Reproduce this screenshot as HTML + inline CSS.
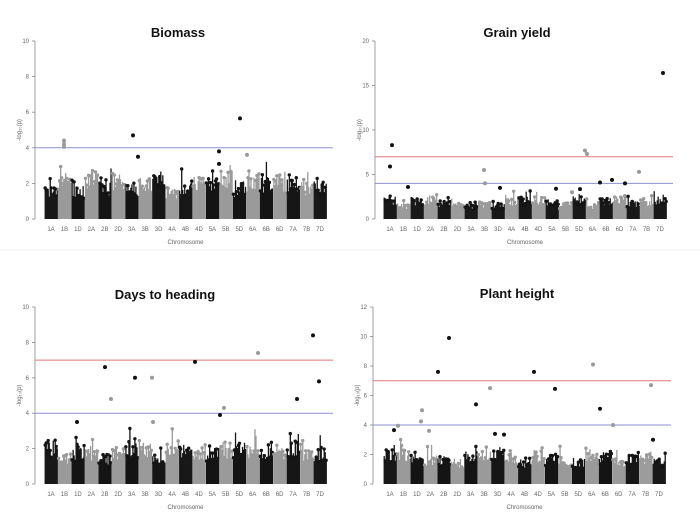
<!DOCTYPE html>
<html><head><meta charset="utf-8"><style>
body{margin:0;background:#fff;width:700px;height:527px;overflow:hidden}
svg{display:block}
text{font-family:"Liberation Sans",sans-serif}
</style></head><body>
<svg id="s" width="700" height="527" xmlns="http://www.w3.org/2000/svg">
<line x1="0" y1="250" x2="700" y2="250" stroke="#f0f0f0"/>
</svg>
<script>
var s=document.getElementById('s'),NS='http://www.w3.org/2000/svg',seed=7;
function R(){seed=(seed*16807)%2147483647;return seed/2147483647;}
function el(t,a,txt){var e=document.createElementNS(NS,t);for(var k in a)e.setAttribute(k,a[k]);if(txt!=null)e.textContent=txt;s.appendChild(e);return e;}
var labs=['1A','1B','1D','2A','2B','2D','3A','3B','3D','4A','4B','4D','5A','5B','5D','6A','6B','6D','7A','7B','7D'];
function panel(p){
 var u=(p.y0-p.yt)/p.max;
 function Y(v){return p.y0-v*u;}
 el('text',{x:p.tx,y:p.ty,'font-size':13,'font-weight':'bold','text-anchor':'middle',fill:'#111'},p.title);
 el('line',{x1:p.ax,y1:p.yt,x2:p.ax,y2:p.y0,stroke:'#888','stroke-width':0.8});
 for(var v=0;v<=p.max;v+=p.step){el('line',{x1:p.ax-3,y1:Y(v),x2:p.ax,y2:Y(v),stroke:'#888','stroke-width':0.8});
  el('text',{x:p.ax-6,y:Y(v)+2,'font-size':6,'text-anchor':'end',fill:'#666'},v);}
 el('text',{x:0,y:0,'font-size':6,'text-anchor':'middle',fill:'#666',transform:'translate('+(p.ax-14)+','+((p.yt+p.y0)/2)+') rotate(-90)'},'-log\u2081\u2080(p)');
 var sp=(p.l7-p.l1)/20;
 for(var i=0;i<21;i++){
  var cx=p.l1+i*sp,c=i%2?'#9a9a9a':'#141414';
  el('text',{x:cx,y:p.y0+12,'font-size':6,'text-anchor':'middle',fill:'#666'},labs[i]);
  var base=p.b0+R()*p.b1,x0=cx-sp/2+0.3,x1=cx+sp/2-0.3;
  for(var x=x0;x<x1;x+=1){
   var h=base*(0.6+0.4*R());
   if(R()<0.15)h+=R()*p.pk;
   el('rect',{x:x,y:Y(h),width:1.3,height:p.y0-Y(h),fill:c});
   if(R()<0.6)el('circle',{cx:x+0.6,cy:Y(h),r:1.7,fill:c});
  }
 }
 p.lines.forEach(function(l){el('line',{x1:p.ax,y1:Y(l[0]),x2:p.ax+298,y2:Y(l[0]),stroke:l[1],'stroke-width':1});});
 p.pts.forEach(function(q){el('circle',{cx:q[0],cy:Y(q[1]),r:2,fill:q[2]?'#9a9a9a':'#111'});});
 el('text',{x:(p.l1+p.l7)/2,y:p.y0+25,'font-size':6,'text-anchor':'middle',fill:'#666'},'Chromosome');
}
var B='#8f8fd0',Rd='#e07878';
panel({title:'Biomass',tx:178,ty:37,ax:35,yt:41,y0:219,max:10,step:2,l1:51,l7:320,b0:1.8,b1:1.0,pk:1.0,lines:[[4,B]],
 pts:[[64,4.4,1],[64,4.2,1],[64,4.05,1],[133,4.7],[138,3.5],[219,3.8],[219,3.1],[240,5.65],[247,3.6,1]]});
panel({title:'Grain yield',tx:517,ty:37,ax:375,yt:41,y0:219,max:20,step:5,l1:390,l7:660,b0:1.8,b1:0.9,pk:1.0,lines:[[7,Rd],[4,B]],
 pts:[[392,8.3],[390,5.9],[408,3.6],[484,5.5,1],[485,4,1],[500,3.5],[556,3.4],[580,3.35],[585,7.7,1],[587,7.3,1],[600,4.1],[612,4.4],[625,4],[639,5.3,1],[663,16.4],[572,3,1]]});
panel({title:'Days to heading',tx:165,ty:299,ax:35,yt:307,y0:484,max:10,step:2,l1:51,l7:320,b0:1.7,b1:0.9,pk:1.0,lines:[[7,Rd],[4,B]],
 pts:[[77,3.5],[105,6.6],[111,4.8,1],[135,6.0],[152,6.0,1],[153,3.5,1],[195,6.9],[220,3.9],[224,4.3,1],[258,7.4,1],[297,4.8],[313,8.4],[319,5.8]]});
panel({title:'Plant height',tx:517,ty:298,ax:373,yt:307,y0:484,max:12,step:2,l1:390,l7:659,b0:1.7,b1:0.8,pk:0.9,lines:[[7,Rd],[4,B]],
 pts:[[394,3.65],[398,3.95,1],[422,5.0,1],[421,4.25,1],[429,3.6,1],[438,7.6],[449,9.9],[476,5.4],[490,6.5,1],[495,3.4],[504,3.35],[534,7.6],[555,6.45],[593,8.1,1],[600,5.1],[613,4,1],[651,6.7,1],[653,3.0]]});
</script>
</body></html>
